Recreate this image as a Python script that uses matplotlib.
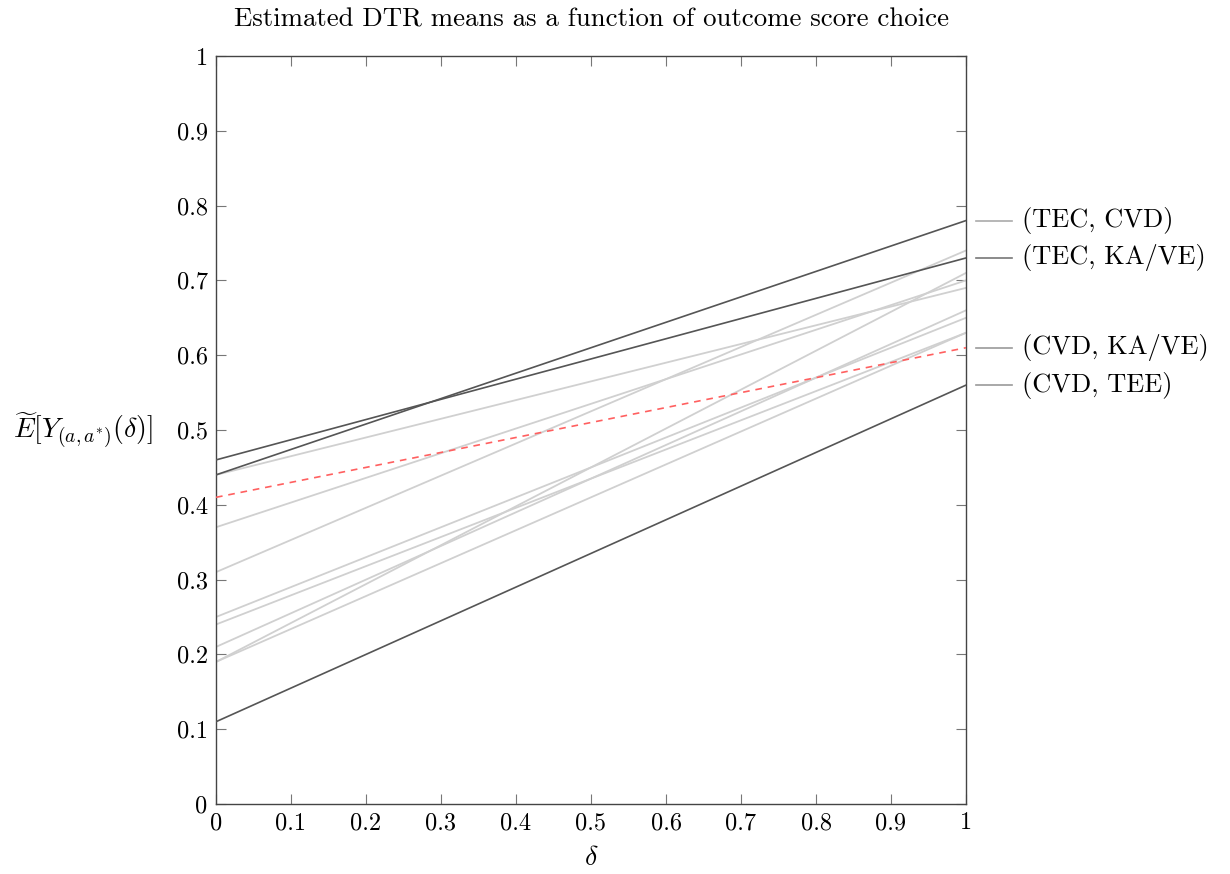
import matplotlib
matplotlib.use("Agg")
import matplotlib.pyplot as plt
import numpy as np

plt.rcParams['font.family'] = ['cmr10', 'DejaVu Serif']
plt.rcParams['mathtext.fontset'] = 'cm'
plt.rcParams['axes.unicode_minus'] = False

# delta grid endpoints
delta = [0.0, 1.0]

# highlighted regimes (dark lines): start value at delta=0, end value at delta=1
dark_names = ["(TEC, CVD)", "(TEC, KA/VE)", "(CVD, TEE)"]
dark_start = [0.44, 0.46, 0.11]
dark_end = [0.78, 0.73, 0.56]

# other regimes (light lines)
light_start = [0.44, 0.37, 0.31, 0.25, 0.24, 0.21, 0.19, 0.19]
light_end = [0.69, 0.70, 0.74, 0.65, 0.63, 0.66, 0.71, 0.63]

# reference (red dashed)
ref_start = 0.41
ref_end = 0.61

# right-side labels
label_names = ["(TEC, CVD)", "(TEC, KA/VE)", "(CVD, KA/VE)", "(CVD, TEE)"]
label_vals = [0.78, 0.73, 0.61, 0.56]

ticks = [0, 0.1, 0.2, 0.3, 0.4, 0.5, 0.6, 0.7, 0.8, 0.9, 1]
tick_labels = ["0", "0.1", "0.2", "0.3", "0.4", "0.5", "0.6", "0.7", "0.8", "0.9", "1"]

fig = plt.figure(figsize=(12.3, 8.74), dpi=100)
ax = fig.add_axes([216/1230, 70/874, 750/1230, 748/874])

for s, e in zip(light_start, light_end):
    ax.plot(delta, [s, e], color='#d0d0d0', lw=1.3, zorder=2)
for s, e in zip(dark_start, dark_end):
    ax.plot(delta, [s, e], color='#555555', lw=1.2, zorder=3)
ax.plot(delta, [ref_start, ref_end], color='#ff6060', lw=1.2, ls=(0, (4, 3.5)), zorder=4)

ax.set_xlim(0, 1)
ax.set_ylim(0, 1)
ax.set_xticks(ticks)
ax.set_yticks(ticks)
ax.set_xticklabels(tick_labels)
ax.set_yticklabels(tick_labels)
ax.tick_params(direction='in', length=7, width=0.8, color='#777777', labelsize=17.5,
               top=True, right=True, pad=6)
for sp in ax.spines.values():
    sp.set_color('#444444')
    sp.set_linewidth(1.0)

label_colors = ['#aaaaaa', '#777777', '#999999', '#999999']
for name, v, c in zip(label_names, label_vals, label_colors):
    ax.plot([1.013, 1.061], [v, v], color=c, lw=1.2, clip_on=False)
    ax.text(1.075, v, name, ha='left', va='center', fontsize=19)

ax.text(0.5, 1.048, "Estimated DTR means as a function of outcome score choice",
        transform=ax.transAxes, ha='center', va='center', fontsize=19.3)
ax.text(0.5, -0.072, r"$\delta$", transform=ax.transAxes, ha='center', va='center', fontsize=20)
ax.text(-0.084, 0.5, r"$\widetilde{E}[Y_{(a,a^{*})}(\delta)]$", transform=ax.transAxes,
        ha='right', va='center', fontsize=20)

fig.savefig("out.png", dpi=100)
